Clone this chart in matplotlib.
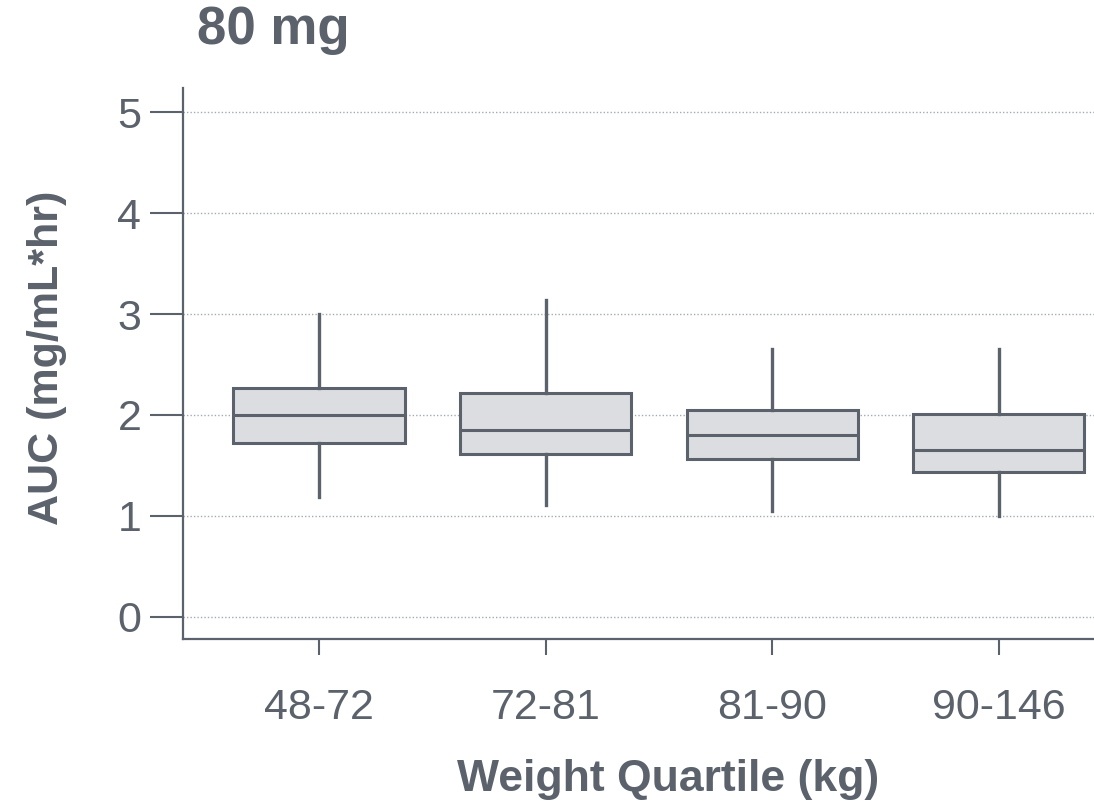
import matplotlib.pyplot as plt

# weight quartile groups and box statistics
groups = ["48-72", "72-81", "81-90", "90-146"]
whisker_low = [1.19, 1.11, 1.05, 1.00]
q1 = [1.72, 1.61, 1.56, 1.43]
median = [2.00, 1.85, 1.80, 1.65]
q3 = [2.27, 2.22, 2.05, 2.01]
whisker_high = [3.00, 3.14, 2.65, 2.65]
y_ticks = [0, 1, 2, 3, 4, 5]

dark = "#5b626b"
fill = "#dcdde0"
grid = "#a3acb2"

plt.rcParams["font.family"] = ["Liberation Sans", "DejaVu Sans"]


def make_stats():
    stats = []
    for i, name in enumerate(groups):
        stats.append({
            "label": name,
            "whislo": whisker_low[i],
            "q1": q1[i],
            "med": median[i],
            "q3": q3[i],
            "whishi": whisker_high[i],
            "fliers": [],
        })
    return stats


def graph(stats):
    fig = plt.figure(figsize=(10.94, 8.08), dpi=100)
    ax = fig.add_axes([183 / 1094, 169 / 808, 1 - 183 / 1094, (639 - 88) / 808])

    ax.yaxis.grid(True, linestyle=(0, (1, 1.5)), color=grid, linewidth=1.0)
    ax.set_axisbelow(True)

    ax.bxp(stats, positions=[1, 2, 3, 4], widths=0.755, patch_artist=True,
           showcaps=False, showfliers=False,
           boxprops=dict(facecolor=fill, edgecolor=dark, linewidth=2.2),
           medianprops=dict(color=dark, linewidth=2.2),
           whiskerprops=dict(color=dark, linewidth=2.4))

    ax.set_xlim(0.4, 4.42)
    ax.set_ylim(-0.22, 5.24)
    ax.set_yticks(y_ticks)
    ax.set_xticks([1, 2, 3, 4])
    ax.set_xticklabels(groups)

    for s in ["top", "right"]:
        ax.spines[s].set_visible(False)
    for s in ["left", "bottom"]:
        ax.spines[s].set_color(dark)
        ax.spines[s].set_linewidth(1.6)

    ax.tick_params(axis="y", length=24, width=1.5, color=dark, pad=6,
                   labelsize=31, labelcolor=dark)
    ax.tick_params(axis="x", length=11.5, width=1.5, color=dark, pad=24,
                   labelsize=31, labelcolor=dark)

    fig.text(668 / 1094, 1 - 779 / 808, "Weight Quartile (kg)", ha="center",
             va="center", fontsize=32, fontweight="bold", color=dark)
    fig.text(47 / 1094, 1 - 358 / 808, "AUC (mg/mL*hr)", ha="center",
             va="center", rotation=90, fontsize=31, fontweight="bold", color=dark)
    fig.text(197 / 1094, 1 - 30 / 808, "80 mg", ha="left", va="center",
             fontsize=38, fontweight="bold", color=dark)

    fig.savefig("out.png", dpi=100)


def main():
    graph(make_stats())


if __name__ == "__main__":
    main()
